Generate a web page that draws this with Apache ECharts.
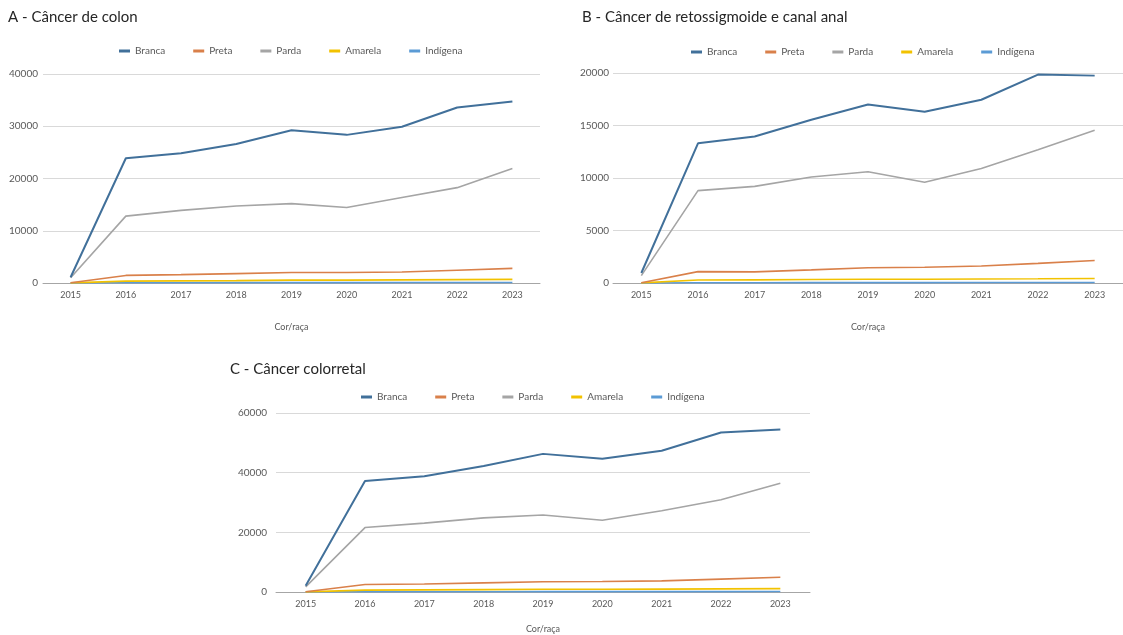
<!DOCTYPE html>
<html>

<head>
    <meta charset="utf-8" />
    <title>Câncer colorretal por cor/raça</title>
    <script src="https://cdn.jsdelivr.net/npm/echarts@6.0.0/dist/echarts.min.js"></script>
</head>

<body style="margin:0;background:#fff;">
    <div id="main" style="width: 1123px;height:635px;"></div>
    <script type="text/javascript">
        var myChart = echarts.init(document.getElementById('main'));

        // categorias (eixo x)
        var anos = ['2015', '2016', '2017', '2018', '2019', '2020', '2021', '2022', '2023'];
        var racas = ['Branca', 'Preta', 'Parda', 'Amarela', 'Indígena'];
        var cores = ['#41709a', '#d9804a', '#a5a5a5', '#f2c200', '#5b9bd5'];

        // A - Câncer de colon
        var colonBranca = [1100, 23870, 24850, 26600, 29250, 28350, 29900, 33600, 34750];
        var colonPreta = [50, 1450, 1600, 1800, 2000, 2000, 2100, 2450, 2800];
        var colonParda = [1000, 12800, 13900, 14750, 15200, 14450, 16350, 18250, 21900];
        var colonAmarela = [20, 350, 400, 450, 550, 550, 600, 650, 700];
        var colonIndigena = [5, 60, 60, 70, 80, 80, 90, 90, 100];

        // B - Câncer de retossigmoide e canal anal
        var retoBranca = [950, 13300, 13950, 15550, 17000, 16300, 17450, 19850, 19750];
        var retoPreta = [30, 1080, 1060, 1250, 1450, 1500, 1620, 1870, 2150];
        var retoParda = [700, 8800, 9200, 10100, 10600, 9600, 10900, 12700, 14550];
        var retoAmarela = [10, 280, 300, 330, 360, 360, 380, 400, 430];
        var retoIndigena = [3, 30, 30, 35, 40, 40, 45, 45, 50];

        // C - Câncer colorretal
        var crBranca = [2100, 37200, 38800, 42200, 46300, 44650, 47350, 53450, 54500];
        var crPreta = [80, 2530, 2660, 3050, 3450, 3500, 3720, 4320, 4950];
        var crParda = [1700, 21600, 23100, 24850, 25800, 24050, 27250, 30950, 36450];
        var crAmarela = [30, 630, 700, 780, 910, 910, 980, 1050, 1130];
        var crIndigena = [8, 90, 90, 105, 120, 120, 135, 135, 150];

        var paineis = [
            { titulo: 'A - Câncer de colon', max: 40000, intervalo: 10000,
              dados: [colonBranca, colonPreta, colonParda, colonAmarela, colonIndigena] },
            { titulo: 'B - Câncer de retossigmoide e canal anal', max: 20000, intervalo: 5000,
              dados: [retoBranca, retoPreta, retoParda, retoAmarela, retoIndigena] },
            { titulo: 'C - Câncer colorretal', max: 60000, intervalo: 20000,
              dados: [crBranca, crPreta, crParda, crAmarela, crIndigena] }
        ];

        // posicoes de cada painel
        var grids = [
            { left: 43, top: 74, width: 497, height: 209 },
            { left: 613, top: 73, width: 519, height: 210 },
            { left: 276, top: 413, width: 534, height: 184 }
        ];
        var titulosPos = [[3, 5], [577, 5], [225, 357]];
        var legendasPos = [[114, 41], [686, 42], [356, 387]];
        var margensY = [5, 4, 9];

        var fonte = 'Lato, "Open Sans", sans-serif';
        var cinza = '#595959';

        var option = {
            textStyle: { fontFamily: fonte },
            color: cores,
            animation: false,
            title: [],
            legend: [],
            grid: grids,
            xAxis: [],
            yAxis: [],
            series: []
        };

        paineis.forEach(function (p, i) {
            option.title.push({
                text: p.titulo,
                left: titulosPos[i][0],
                top: titulosPos[i][1],
                textStyle: { fontSize: 15, fontWeight: 'normal', color: '#262626', fontFamily: fonte }
            });
            option.legend.push({
                data: racas,
                left: legendasPos[i][0],
                top: legendasPos[i][1],
                orient: 'horizontal',
                icon: 'rect',
                itemWidth: 11,
                itemHeight: 3,
                itemGap: 28,
                selectedMode: false,
                textStyle: { fontSize: 10, color: cinza, fontFamily: fonte }
            });
            option.xAxis.push({
                type: 'category',
                gridIndex: i,
                data: anos,
                boundaryGap: true,
                name: 'Cor/raça',
                nameLocation: 'middle',
                nameGap: i === 2 ? 33 : 40,
                nameTextStyle: { fontSize: 9, color: cinza },
                axisTick: { show: false },
                axisLine: { lineStyle: { color: '#a6a6a6', width: 1 } },
                axisLabel: { fontSize: 9, color: cinza, margin: 8 }
            });
            option.yAxis.push({
                type: 'value',
                gridIndex: i,
                min: 0,
                max: p.max,
                interval: p.intervalo,
                axisLine: { show: false },
                axisTick: { show: false },
                axisLabel: {
                    fontSize: 10, color: cinza, margin: margensY[i],
                    formatter: function (v) { return String(v); }
                },
                splitLine: { lineStyle: { color: '#d9d9d9', width: 1 } }
            });
            p.dados.forEach(function (serie, k) {
                option.series.push({
                    name: racas[k],
                    type: 'line',
                    xAxisIndex: i,
                    yAxisIndex: i,
                    data: serie,
                    showSymbol: false,
                    symbol: 'none',
                    lineStyle: { width: k === 0 ? 2 : 1.6, color: cores[k] },
                    itemStyle: { color: cores[k] },
                    z: 10 - k
                });
            });
        });

        myChart.setOption(option);
    </script>
</body>

</html>
